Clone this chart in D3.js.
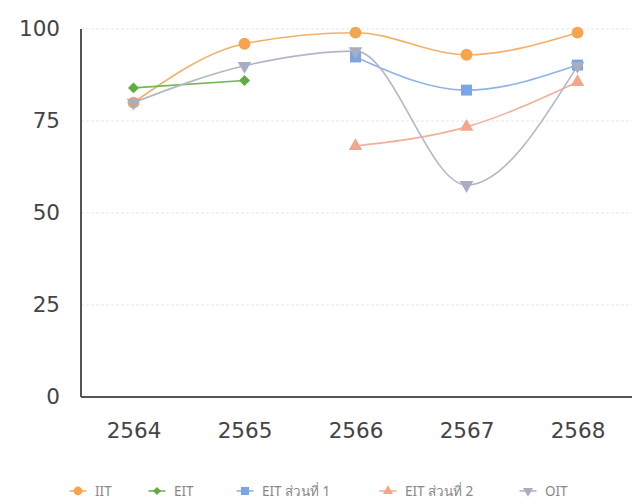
<!DOCTYPE html>
<html><head><meta charset="utf-8">
<script src="https://cdn.jsdelivr.net/npm/d3@7"></script>
<style>body{margin:0;background:#fff}svg{display:block}</style>
</head><body>
<svg id="c" width="638" height="504"></svg>
<script>
const years = ["2564","2565","2566","2567","2568"];
const yTicks = [0,25,50,75,100];
const iit  = [80, 96, 99, 93, 99];
const eit  = [84, 86, null, null, null];
const eit1 = [null, null, 92.4, 83.4, 90.2];
const eit2 = [null, null, 68.2, 73.4, 85.6];
const oit  = [80, 90, 94, 57.6, 90];

const series = [
  {name:"IIT", values:iit, color:"#f5a54e", line:"#f5b067", sym:d3.symbolCircle, size:110},
  {name:"EIT", values:eit, color:"#62aa42", line:"#74b556", sym:d3.symbolSquare, size:60, rot:45},
  {name:"EIT ส่วนที่ 1", values:eit1, color:"#7ba6e3", line:"#8fb3e6", sym:d3.symbolSquare, size:120},
  {name:"EIT ส่วนที่ 2", values:eit2, color:"#f3a68a", line:"#f2b09a", sym:d3.symbolTriangle, size:80},
  {name:"OIT", values:oit, color:"#a8adc3", line:"#b2b6c9", sym:d3.symbolTriangle, size:80, rot:180}
];

const FONT = "DejaVu Sans, sans-serif";
const svg = d3.select("#c");
const x = d3.scalePoint().domain(years).range([78,633]).padding(0.5);
const y = d3.scaleLinear().domain([0,100]).range([397,29]);

// gridlines
svg.append("g").selectAll("line").data(yTicks.filter(d=>d>0)).join("line")
  .attr("x1",81).attr("x2",632).attr("y1",d=>y(d)).attr("y2",d=>y(d))
  .attr("stroke","#e3e6ea").attr("stroke-width",1).attr("stroke-dasharray","3,2");

// y axis
const ya = svg.append("g").attr("transform","translate(81,0)")
  .call(d3.axisLeft(y).tickValues(yTicks).tickSize(0).tickPadding(21));
ya.select(".domain").attr("stroke","#555").attr("stroke-width",2).attr("d",`M0,${y(100)}V${y(0)}`);
ya.selectAll("text").attr("font-family",FONT).attr("font-size",21.5).attr("fill","#444");

// x axis
const xa = svg.append("g").attr("transform",`translate(0,${y(0)})`)
  .call(d3.axisBottom(x).tickSize(0).tickPadding(26));
xa.select(".domain").attr("stroke","#555").attr("stroke-width",2).attr("d","M81,0H632");
xa.selectAll("text").attr("font-family",FONT).attr("font-size",21.5).attr("fill","#444");

const line = d3.line().defined(d=>d.v!=null).x(d=>x(d.k)).y(d=>y(d.v)).curve(d3.curveMonotoneX);

series.forEach(s=>{
  const pts = years.map((k,i)=>({k, v:s.values[i]}));
  svg.append("path").datum(pts).attr("d",line).attr("fill","none")
    .attr("stroke",s.line).attr("stroke-width",1.6);
});
series.forEach(s=>{
  const pts = years.map((k,i)=>({k, v:s.values[i]})).filter(d=>d.v!=null);
  svg.append("g").selectAll("path").data(pts).join("path")
    .attr("d",d3.symbol().type(s.sym).size(s.size))
    .attr("transform",d=>`translate(${x(d.k)},${y(d.v)}) rotate(${s.rot||0})`)
    .attr("fill",s.color);
});

// legend
const legX = [78, 157, 245, 388, 528];
const lg = svg.append("g").attr("transform","translate(0,491)");
series.forEach((s,i)=>{
  const g = lg.append("g").attr("transform",`translate(${legX[i]},0)`);
  g.append("line").attr("x1",-8.5).attr("x2",8.5).attr("stroke",s.line).attr("stroke-width",1.6);
  g.append("path").attr("d",d3.symbol().type(s.sym).size(s.size*0.55)).attr("fill",s.color)
    .attr("transform",`rotate(${s.rot||0})`);
  g.append("text").attr("x",17).attr("y",5).text(s.name)
    .attr("font-family","Noto Sans, sans-serif").attr("font-size",13.5).attr("fill","#888");
});
</script>
</body></html>
